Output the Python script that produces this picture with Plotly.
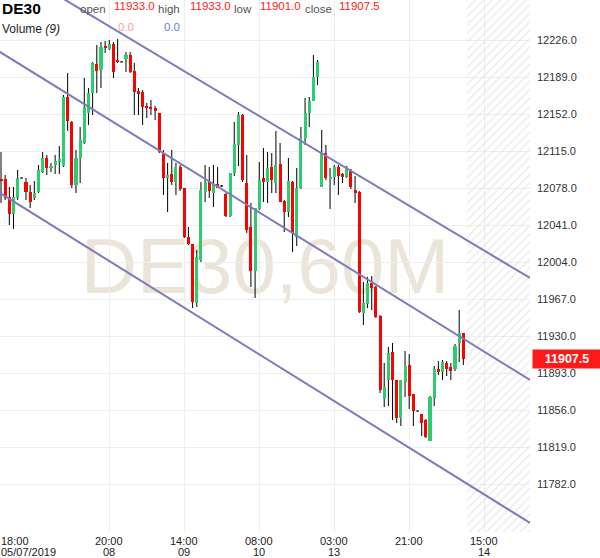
import plotly.graph_objects as go

# ---------------- data ----------------
opens = [12087, 12087, 12069, 12052, 12068, 12088, 12084, 12074, 12068, 12074,
         12094, 12108, 12098, 12101, 12104, 12100, 12169, 12144, 12081, 12108,
         12123, 12153, 12173, 12202, 12196, 12220, 12217, 12222, 12206, 12204,
         12207, 12211, 12195, 12175, 12174, 12160, 12159, 12158, 12153, 12112,
         12088, 12092, 12084, 12099, 12078, 12029, 12022, 11963, 12006, 12074,
         12084, 12073, 12082, 12080, 12072, 12050, 12093, 12121, 12151, 12083,
         12039, 11995, 12057, 12088, 12084, 12099, 12083, 12102, 12065, 12054,
         12084, 12029, 12078, 12128, 12153, 12165, 12189, 12079, 12113, 12087,
         12089, 12099, 12092, 12089, 12096, 12076, 12074, 11953, 11962, 11983,
         11979, 11950, 11867, 11886, 11914, 11886, 11848, 11884, 11901, 11872,
         11855, 11852, 11846, 11825, 11868, 11897, 11894, 11903, 11899, 11897,
         11923, 11933.0]
highs = [12114, 12091, 12079, 12079, 12096, 12088.5, 12088, 12081, 12085, 12101,
         12114, 12111, 12103, 12111, 12120, 12171, 12193, 12145, 12116, 12139,
         12188, 12178, 12204, 12221, 12224, 12225, 12226, 12224, 12227, 12205,
         12214, 12214, 12203, 12178, 12176, 12163, 12166, 12160, 12153, 12116,
         12103, 12116, 12103, 12101, 12078, 12039, 12022, 12016, 12084, 12101,
         12099, 12101, 12099, 12081, 12073, 12093, 12144, 12154, 12152, 12111,
         12063, 12058, 12104, 12118, 12114, 12113, 12135, 12123, 12066, 12108,
         12085, 12098, 12139, 12168, 12169, 12211, 12206, 12136, 12121, 12098,
         12101, 12101, 12093, 12100, 12097, 12090, 12075, 11984, 11989, 11990,
         11980, 11951, 11903, 11919, 11923, 11886, 11886, 11915, 11912, 11872,
         11855.5, 11852, 11847, 11870, 11900, 11905, 11906, 11905, 11903, 11922,
         11956, 11933.0]
lows = [12063, 12066, 12041, 12037, 12066, 12087.5, 12066, 12058, 12066, 12073,
        12093, 12091, 12094, 12092, 12092, 12099, 12135, 12078, 12073, 12083,
        12122, 12141, 12151, 12173, 12178, 12213, 12216, 12188, 12203, 12204,
        12194, 12193, 12151, 12151, 12141, 12148, 12151, 12146, 12113, 12071,
        12054, 12081, 12071, 12075, 12028, 12021, 11958, 11959, 12004, 12064,
        12068, 12059, 12078, 12079, 12049, 12049, 12090, 12100, 12084, 12033,
        11979, 11968, 12056, 12064, 12063, 12073, 12073, 12064, 12034, 12049,
        12014, 12020, 12077, 12121, 12139, 12165, 12181, 12079, 12086, 12057,
        12081, 12071, 12083, 12088, 12077, 12063, 11953, 11941, 11958, 11956,
        11948, 11873, 11859, 11860, 11846, 11843, 11840, 11869, 11857, 11840,
        11854.5, 11830, 11828, 11825, 11860, 11891, 11886, 11890, 11886, 11895,
        11904, 11901.0]
closes = [12085.5, 12068, 12052, 12069, 12088, 12088, 12074, 12064, 12073, 12096,
          12108, 12098, 12100, 12105, 12107, 12169, 12145, 12081, 12108, 12126,
          12159, 12173, 12203, 12195, 12219, 12218, 12222, 12194, 12204, 12204,
          12211, 12194, 12174, 12172, 12159, 12158, 12157, 12155, 12114, 12088,
          12091, 12084, 12099, 12077, 12029, 12022, 11964, 12009, 12076, 12084,
          12075, 12082, 12078.5, 12080, 12050, 12093, 12122, 12151, 12086, 12036,
          11995, 12058, 12086, 12084, 12098, 12086, 12101, 12064.5, 12054, 12085,
          12033, 12078, 12128, 12153, 12165, 12189, 12204, 12113, 12088, 12089,
          12099, 12090, 12089, 12098, 12079, 12073, 11954, 11963, 11983, 11978,
          11949, 11876, 11879, 11913, 11886, 11848, 11886, 11900, 11870, 11855,
          11855, 11843, 11829, 11869, 11897, 11894, 11904, 11897, 11895, 11920,
          11933, 11907.5]

y_ticks = [11782.0, 11819.0, 11856.0, 11893.0, 11930.0, 11967.0, 12004.0,
           12041.0, 12078.0, 12115.0, 12152.0, 12189.0, 12226.0]
x_tick_idx = [1, 27, 45, 63, 81, 99, 117]
x_tick_time = ["18:00", "20:00", "14:00", "08:00", "03:00", "21:00", "15:00"]
x_tick_day = ["05/07/2019", "08", "09", "10", "13", "", "14"]

channel_x = [0, 128]
channel_upper = [12307, 11988]
channel_middle = [12216, 11886]
channel_lower = [12075, 11743]

symbol = "DE30"
volume_vals = [0.0, 0.0]

# ---------------- styles ----------------
GREEN = "#2ecc71"
RED = "#ff0000"
DOJI = "#888888"
LINE = "#7b7bbd"
GRID = "#eeeeee"
FONT = "Liberation Sans, Arial, sans-serif"
X_RANGE = [0.76, 128.0]
Y_RANGE = [11734, 12266]
PW, PH = 530.0, 532.0

n = len(opens)
idx = list(range(1, n + 1))

bases, heights, colors = [], [], []
wx, wy = [], []
for i, o, h, l, c in zip(idx, opens, highs, lows, closes):
    top, bot = max(o, c), min(o, c)
    if c > o:
        colors.append(GREEN)
    elif c < o:
        colors.append(RED)
    else:
        colors.append(DOJI)
    if top - bot < 1.0:
        bases.append((top + bot) / 2 - 0.5)
        heights.append(1.0)
    else:
        bases.append(bot)
        heights.append(top - bot)
    if h > top:
        wx += [i, i, None]
        wy += [h, top, None]
    if l < bot:
        wx += [i, i, None]
        wy += [bot, l, None]

fig = go.Figure()

# future hatched area
fx0 = n + 0.9
fig.add_trace(go.Scatter(
    x=[fx0, X_RANGE[1] + 1, X_RANGE[1] + 1, fx0, fx0],
    y=[Y_RANGE[0] - 5, Y_RANGE[0] - 5, Y_RANGE[1] + 5, Y_RANGE[1] + 5, Y_RANGE[0] - 5],
    fill="toself", fillcolor="rgba(0,0,0,0)", mode="lines", line=dict(width=0),
    fillpattern=dict(shape="/", fgcolor="#dedede", bgcolor="rgba(0,0,0,0)",
                     size=6, solidity=0.3),
    hoverinfo="skip"))

# candle bodies
fig.add_trace(go.Bar(x=idx, y=heights, base=bases, width=0.74,
                     marker=dict(color=colors, line=dict(width=0)),
                     hoverinfo="skip"))
# wicks
fig.add_trace(go.Scatter(x=wx, y=wy, mode="lines",
                         line=dict(color="#000000", width=1), hoverinfo="skip"))
# channel lines
for ys in (channel_upper, channel_middle, channel_lower):
    fig.add_trace(go.Scatter(x=channel_x, y=ys, mode="lines",
                             line=dict(color=LINE, width=2), hoverinfo="skip"))

fig.update_layout(
    width=600, height=558,
    margin=dict(l=0, r=70, t=0, b=26),
    paper_bgcolor="white", plot_bgcolor="white",
    showlegend=False, bargap=0,
    font=dict(family=FONT, size=11, color="#333"),
)
fig.update_xaxes(range=X_RANGE, tickvals=x_tick_idx[1:], showticklabels=False,
                 showgrid=True, gridcolor=GRID, gridwidth=1, zeroline=False,
                 showline=False, ticks="")
fig.update_yaxes(range=Y_RANGE, side="right", tickvals=y_ticks,
                 ticktext=[f"{v:.1f}" for v in y_ticks],
                 showgrid=True, gridcolor=GRID, gridwidth=1, zeroline=False,
                 showline=False, ticks="", ticklabelstandoff=6,
                 tickfont=dict(size=11, color="#333"))

# watermark (below grid & traces)
fig.add_shape(type="rect", xref="paper", yref="paper",
              x0=0.05, x1=0.95, y0=0.413, y1=0.613,
              line=dict(width=0), fillcolor="rgba(0,0,0,0)", layer="below",
              label=dict(text="DE30,60M", textposition="middle center",
                         font=dict(size=78, color="#ebe5d9", family=FONT)))


def px(x, y):
    return x / PW, 1 - y / PH


def note(x, y, text, size=11.5, color="#555", xanchor="left"):
    xp, yp = px(x, y)
    fig.add_annotation(xref="paper", yref="paper", x=xp, y=yp, text=text,
                       showarrow=False, xanchor=xanchor, yanchor="middle",
                       font=dict(size=size, color=color, family=FONT),
                       borderpad=0)


# header
note(1, 8, f"<b>{symbol}</b>", size=15.5, color="#000")
last = (opens[-1], highs[-1], lows[-1], closes[-1])
labels = ["open", "high", "low", "close"]
lab_x = [79, 157, 233, 304]
val_x = [113, 189, 259, 338]
for lab, lx, vx, v in zip(labels, lab_x, val_x, last):
    note(lx, 9, lab, color="#555")
    note(vx, 6, f"{v:.1f}", color="#ff2020")
note(1, 29, "Volume <i>(9)</i>", size=12, color="#222")
note(117, 27, f"{volume_vals[0]:.1f}", color="#f7a3a3")
note(163, 27, f"{volume_vals[1]:.1f}", color="#5b86d0")

# x labels (two rows)
for k, (i, t, d) in enumerate(zip(x_tick_idx, x_tick_time, x_tick_day)):
    for txt, ypx in ((t, 541.0), (d, 552.0)):
        if not txt:
            continue
        if k == 0:
            fig.add_annotation(xref="paper", yref="paper", x=0.0, y=1 - ypx / PH,
                               text=txt, showarrow=False, xanchor="left",
                               yanchor="middle", borderpad=0,
                               font=dict(size=11, color="#222", family=FONT))
        else:
            fig.add_annotation(xref="x", yref="paper", x=i, y=1 - ypx / PH,
                               text=txt, showarrow=False, xanchor="center",
                               yanchor="middle", borderpad=0,
                               font=dict(size=11, color="#222", family=FONT))

# current price tag
fig.add_annotation(xref="paper", yref="y", x=532 / PW, y=closes[-1],
                   xanchor="left", yanchor="middle", showarrow=False,
                   text=f"<b>{closes[-1]:.1f}</b>", bgcolor="#ff1a1a",
                   width=64, height=14, borderpad=2, align="center",
                   font=dict(size=12.5, color="white", family=FONT))

fig.write_html("out.html",
               config={"displayModeBar": False},
               post_script="document.body.style.margin='0';"
                           "document.body.style.overflow='hidden';")
